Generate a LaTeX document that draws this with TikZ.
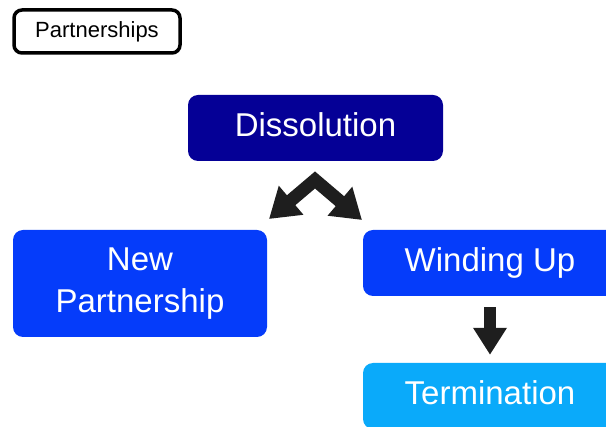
\documentclass[tikz,border=0pt]{standalone}
\usepackage{fontspec}
\setmainfont{Liberation Sans}
\usetikzlibrary{arrows.meta, positioning}
\definecolor{navyblue}{RGB}{5,0,150}
\definecolor{brightblue}{RGB}{5,60,250}
\definecolor{skyblue}{RGB}{10,170,250}
\definecolor{arrowgray}{RGB}{30,30,30}
\tikzset{
  stage/.style    = {rounded corners=10pt, text=white, align=center,
                     font=\fontsize{33}{42}\selectfont, inner sep=0pt,
                     minimum width=254pt, minimum height=66pt},
  tag/.style      = {draw=black, line width=3.5pt, rounded corners=8pt, fill=white,
                     font=\fontsize{22}{26}\selectfont, inner sep=0pt,
                     minimum width=166pt, minimum height=43pt},
  bigarrow/.style = {line width=12pt, color=arrowgray, line join=miter},
}

\begin{document}
\begin{tikzpicture}[x=1pt, y=-1pt]
  \useasboundingbox (0,0) rectangle (606,427);
  \clip (0,0) rectangle (606,427);
  \node[tag] (topic) at (97,31.5) {Partnerships};
  \node[stage, fill=navyblue, minimum width=255pt, text depth=6pt] (diss) at (315.5,128) {Dissolution};
  \node[stage, fill=brightblue, minimum height=107pt] (newp) at (140,283.5) {New\\Partnership};
  \node[stage, fill=brightblue] (wind) at (490,263) {Winding Up};
  \node[stage, fill=skyblue, text depth=6pt] (term) at (490,396) {Termination};
  % split arrow below the dissolution box
  \coordinate (split) at (315,180);
  \coordinate (tipnew) at (269,219);
  \coordinate (tipwind) at (362,220);
  \draw[bigarrow, line width=13pt,
        {Triangle[length=29pt,width=36pt]}-{Triangle[length=29pt,width=36pt]}]
    (tipnew) -- (split) -- (tipwind);
  \draw[bigarrow, -{Triangle[length=27pt,width=32pt]}, shorten <=11pt, shorten >=8pt]
    (wind) -- (term);
\end{tikzpicture}
\end{document}
